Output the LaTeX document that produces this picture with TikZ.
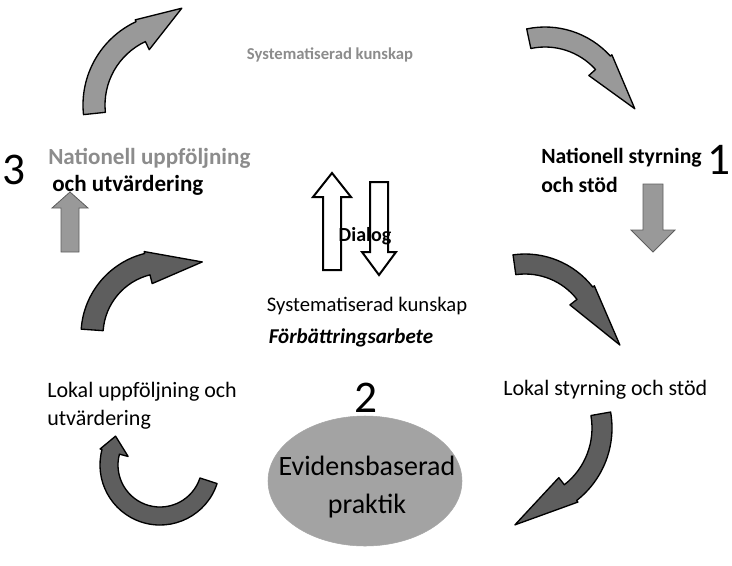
\documentclass[tikz,border=0pt]{standalone}
\usepackage{fontspec}
\setmainfont{Carlito}
\usepackage{tikz}
\usetikzlibrary{shapes,arrows,positioning,calc}

\definecolor{lightarrow}{HTML}{999999}
\definecolor{darkarrow}{HTML}{5E5E5E}
\definecolor{labelgray}{HTML}{8C8C8C}
\definecolor{ellipsegray}{HTML}{A3A3A3}

% curved block arrow: cx, cy, inner r, outer r, start, end, tip angle, tip r, style
\newcommand{\curvedarrow}[9]{%
  \filldraw[#9] ($(#1,#2)+({#5}:{#4})$) arc[start angle=#5, end angle=#6, radius=#4]
    -- ($(#1,#2)+({#6}:{#4+2})$) -- ($(#1,#2)+({#7}:{#8})$) -- ($(#1,#2)+({#6}:{#3-9})$)
    -- ($(#1,#2)+({#6}:{#3})$) arc[start angle=#6, end angle=#5, radius=#3] -- cycle;}

% straight block arrow: x, tip y, tail y, shaft half, head half, head length, style
\newcommand{\blockarrow}[7]{%
  \filldraw[#7] (#1,#2) -- ({#1+#5},{#2+#6}) -- ({#1+#4},{#2+#6}) -- ({#1+#4},#3)
    -- ({#1-#4},#3) -- ({#1-#4},{#2+#6}) -- ({#1-#5},{#2+#6}) -- cycle;}

\begin{document}
\begin{tikzpicture}[x=0.75pt, y=-0.75pt,
    txt/.style={inner sep=0pt, font=\fontsize{16.5}{19}\selectfont},
    txtb/.style={inner sep=0pt, font=\fontsize{17.3}{20}\selectfont\bfseries},
    num/.style={inner sep=0pt, font=\fontsize{34}{40}\selectfont},
    light/.style={fill=lightarrow, draw=black, line width=1pt, line join=round},
    dark/.style={fill=darkarrow, draw=black, line width=1pt, line join=round},
    block/.style={fill=lightarrow, draw=darkarrow, line width=0.6pt},
    hollow/.style={fill=white, draw=black, line width=1.5pt},
    practice/.style={fill=ellipsegray, draw=black!35}
]
    \useasboundingbox (0,0) rectangle (732,565);

    % Curved arrows round the cycle
    \curvedarrow{175}{105}{70}{92}{174}{245}{274}{97}{light}
    \curvedarrow{545}{115}{68}{88}{258}{318}{356}{90}{light}
    \curvedarrow{165}{335}{62}{84}{184}{256}{297}{82}{dark}
    \curvedarrow{525}{340}{66}{86}{262}{322}{363}{95}{dark}
    \curvedarrow{520}{428}{72}{92}{-10}{52}{93}{97}{dark}
    \curvedarrow{160}{465}{42}{60}{18}{195}{213}{53}{dark}

    % Straight arrows
    \blockarrow{70}{192}{252}{9}{18}{16}{block}
    \blockarrow{653}{252}{184}{10}{22}{-22}{block}
    \blockarrow{332}{173}{270}{9}{19}{24}{hollow}
    \blockarrow{379}{275}{182}{9}{17}{-23}{hollow}

    % Top
    \node[txtb, text=labelgray, font=\fontsize{12.5}{15}\selectfont\bfseries] (sysknow) at (330,55) {Systematiserad kunskap};

    % National level
    \node[num] (numthree) at (14,170) {3};
    \node[txtb, text=labelgray, anchor=west] (natfollow) at (48,158) {Nationell uppföljning};
    \node[txtb, anchor=west] (natfollowb) at (52,185) {och utvärdering};
    \node[num, anchor=east] (numone) at (731,160) {1};
    \node[txtb, font=\fontsize{16.3}{19}\selectfont\bfseries, anchor=west] (natsteer) at (541,158) {Nationell styrning};
    \node[txtb, font=\fontsize{16.3}{19}\selectfont\bfseries, anchor=west] (natsteerb) at (541,185) {och stöd};

    % Middle
    \node[txtb, font=\fontsize{15}{18}\selectfont\bfseries] (dialog) at (365,236) {Dialog};
    \node[txt, font=\fontsize{15.5}{18}\selectfont] (midknow) at (367,306) {Systematiserad kunskap};
    \node[txtb, font=\fontsize{15.8}{18}\selectfont\bfseries\itshape] (improve) at (351,338) {Förbättringsarbete};

    % Local level
    \node[txt, anchor=west] (localfollow) at (47,392) {Lokal uppföljning och};
    \node[txt, anchor=west] (localfollowb) at (47,420) {utvärdering};
    \node[txt, anchor=west] (localsteer) at (503,390) {Lokal styrning och stöd};

    % Practice
    \draw[practice] (365,481) ellipse [x radius=97, y radius=65];
    \node[align=center, inner sep=0pt, font=\fontsize{21}{28}\selectfont] (evidence) at (367,487) {Evidensbaserad\\praktik};
    \node[num] (numtwo) at (366,398) {2};
\end{tikzpicture}
\end{document}
